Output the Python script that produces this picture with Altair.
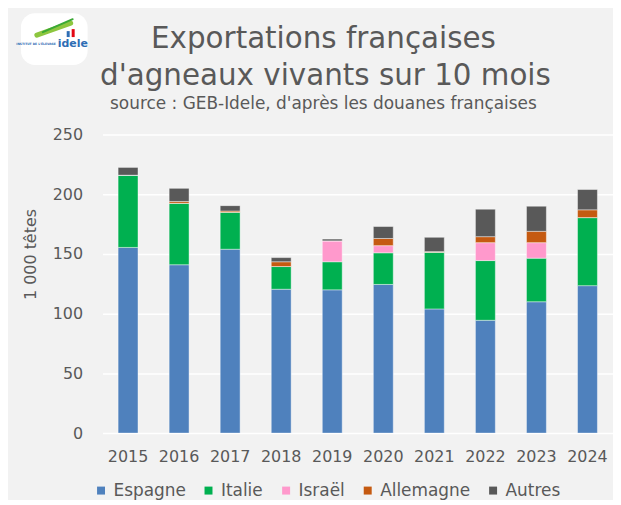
import altair as alt
import pandas as pd

years = ["2015", "2016", "2017", "2018", "2019", "2020", "2021", "2022", "2023", "2024"]
series = ["Espagne", "Italie", "Israël", "Allemagne", "Autres"]
colors = ["#4f81bd", "#00b050", "#ff99cc", "#c55a11", "#595959"]

espagne = [155.5, 141.0, 154.0, 120.5, 120.0, 124.5, 104.0, 94.5, 110.0, 123.5]
italie = [60.5, 51.5, 31.0, 19.0, 23.5, 26.5, 47.5, 50.0, 36.5, 57.0]
israel = [0.0, 0.0, 0.0, 0.0, 17.5, 6.0, 0.0, 15.0, 13.0, 0.0]
allemagne = [0.0, 1.5, 1.0, 4.0, 0.0, 6.0, 0.5, 5.0, 9.5, 6.5]
autres = [6.5, 11.0, 4.5, 3.5, 1.5, 10.0, 12.0, 23.0, 21.0, 17.0]

title_lines = ["Exportations françaises", "d'agneaux vivants sur 10 mois"]
subtitle = "source : GEB-Idele, d'après les douanes françaises"
logo_words = ["idele", "INSTITUT DE L'ÉLEVAGE"]

values = [espagne, italie, israel, allemagne, autres]
rows = []
for si, (name, vals) in enumerate(zip(series, values)):
    for y, v in zip(years, vals):
        rows.append({"annee": y, "pays": name, "valeur": v, "ordre": si})
df = pd.DataFrame(rows)

FONT = "DejaVu Sans"
GREY = "#595959"

bars = alt.Chart(df).mark_bar(stroke="white", strokeWidth=0.6, strokeOpacity=0.7).encode(
    x=alt.X("annee:N", sort=years, title=None,
            scale=alt.Scale(paddingInner=0.61, paddingOuter=0.305),
            axis=alt.Axis(labelAngle=0, ticks=False, tickSize=0, domain=False,
                          labelPadding=16, labelFontSize=16, labelColor=GREY,
                          labelFont=FONT, grid=False)),
    y=alt.Y("valeur:Q", stack="zero", title="1 000 têtes",
            scale=alt.Scale(domain=[0, 250]),
            axis=alt.Axis(values=[0, 50, 100, 150, 200, 250], ticks=False, tickSize=0,
                          domain=False, labelPadding=20, labelFontSize=16,
                          labelColor=GREY, labelFont=FONT, gridColor="white",
                          gridWidth=1.5, titleFont=FONT, titleFontSize=16,
                          titleColor=GREY, titleFontWeight="normal", titlePadding=14,
                          titleY=120)),
    color=alt.Color("pays:N", sort=series,
                    scale=alt.Scale(domain=series, range=colors),
                    legend=alt.Legend(title=None, orient="none", legendX=-10, legendY=349,
                                      direction="horizontal", symbolType="square",
                                      symbolSize=64, symbolStrokeWidth=0,
                                      labelFontSize=17, labelFont=FONT,
                                      labelColor=GREY, columnPadding=14,
                                      labelOffset=4)),
    order=alt.Order("ordre:Q", sort="ascending"),
)

one = alt.Data(values=[{"t": 0}])

logo_bg = alt.Chart(one).mark_rect(fill="white", cornerRadius=14).encode(
    x=alt.value(-82), x2=alt.value(-15), y=alt.value(-122), y2=alt.value(-70)
)
logo_swoosh = alt.Chart(one).mark_rule(color="#8dc63f", strokeWidth=5, strokeCap="round").encode(
    x=alt.value(-66), x2=alt.value(-32), y=alt.value(-100), y2=alt.value(-112)
)
logo_swoosh2 = alt.Chart(one).mark_rule(color="#3aa935", strokeWidth=2, strokeCap="round").encode(
    x=alt.value(-60), x2=alt.value(-30), y=alt.value(-103), y2=alt.value(-116)
)
logo_flag_b = alt.Chart(one).mark_rect(fill="#2e6db4").encode(
    x=alt.value(-36), x2=alt.value(-33), y=alt.value(-104), y2=alt.value(-98)
)
logo_flag_r = alt.Chart(one).mark_rect(fill="#e30613").encode(
    x=alt.value(-31), x2=alt.value(-28), y=alt.value(-106), y2=alt.value(-98)
)


def txt(s, size, xpos, ypos, color=GREY, weight="normal", align="center"):
    return alt.Chart(alt.Data(values=[{"t": s}])).mark_text(
        font=FONT, fontSize=size, color=color, align=align, baseline="middle",
        fontWeight=weight,
    ).encode(x=alt.value(xpos), y=alt.value(ypos), text="t:N")


logo_t1 = txt(logo_words[0], 11, -45, -91, color="#2e6db4", weight="bold", align="left")
logo_t2 = txt(logo_words[1], 3, -47, -91, color="#2e6db4", weight="bold", align="right")

t1 = txt(title_lines[0], 29.5, 222, -96)
t2 = txt(title_lines[1], 29.5, 224, -59)
t3 = txt(subtitle, 17, 222, -31)

chart = alt.layer(logo_bg, logo_swoosh, logo_swoosh2, logo_flag_b, logo_flag_r,
                  logo_t1, logo_t2, t1, t2, t3, bars).properties(
    width=513,
    height=300,
    background="#f2f2f2",
    padding={"left": 8, "right": 0, "top": 4, "bottom": 0},
).configure_view(stroke=None)

chart.save("out.html", embed_options={"renderer": "svg", "actions": False})
